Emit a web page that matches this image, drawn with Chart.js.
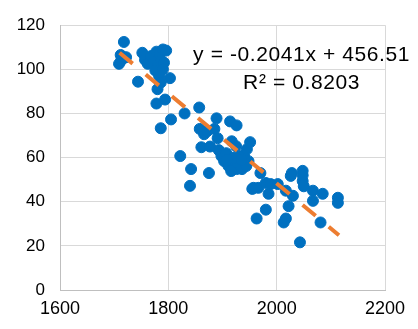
<!DOCTYPE html>
<html>
<head>
<meta charset="utf-8">
<script src="https://cdn.jsdelivr.net/npm/chart.js@4/dist/chart.umd.min.js"></script>
<style>
  body { margin: 0; background: #fff; }
</style>
</head>
<body>
<canvas id="scatterChart" width="418" height="329"></canvas>
<script>
// observations
const xValues = [
  1718, 1712, 1722, 1709, 1713, 1744, 1752, 1757, 1762, 1768,
  1774, 1778, 1784, 1790, 1796, 1780, 1787, 1792, 1776, 1783,
  1790, 1786, 1780, 1778, 1794, 1803, 1786, 1805, 1830, 1857,
  1822, 1842, 1840, 1875, 1858, 1866, 1861, 1872, 1877, 1885,
  1889, 1891, 1893, 1898, 1903, 1907, 1911, 1914, 1926, 1917,
  1925, 1917, 1929, 1933, 1940, 1945, 1951, 1948, 1936, 1926,
  1944, 1916, 1921, 1908, 1935, 1970, 1957, 1966, 1980, 1989,
  1985, 2002, 2017, 2030, 2026, 2028, 2048, 2048, 2050, 2067,
  2067, 2085, 2113, 2113, 2081, 2043, 2013, 2022, 1980, 1963,
  2017, 1955, 2048
];
const yValues = [
  112.4, 106.5, 105.5, 102.5, 104, 94.4, 107.5, 104.3, 102.5, 106,
  104, 108, 107, 109, 108.5, 102, 104, 103, 99.5, 97,
  100, 94, 91, 84.5, 86.3, 96, 73.3, 77.3, 80, 82.7,
  60.7, 54.8, 47.2, 53, 73, 70.6, 64.7, 72, 65, 73,
  77.8, 68.8, 63.4, 60.7, 58.4, 62, 56.2, 76.4, 74.6, 67.4,
  65.2, 58.4, 57.1, 60.7, 60.7, 63.8, 67, 58.4, 54.8, 54.8,
  56.2, 53.9, 60, 59, 59, 53, 46.3, 46.3, 48.5, 48,
  43.6, 48, 45, 42.7, 51.7, 53, 54, 49.4, 47, 45,
  40.4, 43.6, 41.8, 39.5, 30.6, 21.6, 30.6, 38, 36.4, 32.4,
  32.4, 45.8, 52
];

// linear fit
const slope = -0.2041;
const intercept = 456.51;
const rSquared = 0.8203;
const fitFrom = 1710;
const fitTo = 2115;

const xTickRange = [1600, 2200, 200];
const yTickRange = [0, 120, 20];

const points = xValues.map((x, i) => ({ x: x, y: yValues[i] }));
const fitLine = [fitFrom, fitTo].map(x => ({ x: x, y: slope * x + intercept }));

const fitLabel = {
  id: 'fitLabel',
  afterDraw(chart) {
    const ctx = chart.ctx;
    const cx = chart.scales.x.getPixelForValue(2046);
    ctx.save();
    ctx.fillStyle = '#000';
    ctx.font = '21px "Liberation Sans", Arial, sans-serif';
    ctx.letterSpacing = '0.6px';
    ctx.textAlign = 'center';
    ctx.textBaseline = 'middle';
    ctx.fillText('y = ' + slope + 'x + ' + intercept, cx, chart.scales.y.getPixelForValue(106.5));
    ctx.fillText('R² = ' + rSquared, cx, chart.scales.y.getPixelForValue(93.5));
    ctx.restore();
  }
};

const tickFont = { family: '"Liberation Sans", Arial, sans-serif', size: 17 };

new Chart(document.getElementById('scatterChart'), {
  type: 'scatter',
  data: {
    datasets: [{
      type: 'line',
      data: fitLine,
      borderColor: '#ED7D31',
      borderWidth: 4,
      borderDash: [17, 17],
      borderCapStyle: 'butt',
      pointRadius: 0,
      fill: false,
      order: 0
    }, {
      data: points,
      backgroundColor: '#0070C0',
      borderColor: '#0070C0',
      pointRadius: 5.5,
      order: 1
    }]
  },
  options: {
    responsive: false,
    animation: false,
    layout: { padding: { top: 23, right: 33, left: 0, bottom: 0 } },
    plugins: {
      legend: { display: false },
      tooltip: { enabled: false }
    },
    scales: {
      x: {
        type: 'linear',
        min: xTickRange[0],
        max: xTickRange[1],
        ticks: {
          stepSize: xTickRange[2],
          color: '#000',
          font: { family: tickFont.family, size: 18 },
          padding: 8,
          callback: v => String(v)
        },
        grid: { color: '#d9d9d9', drawTicks: false },
        border: { color: '#bfbfbf', width: 1 },
        afterFit(scale) { scale.height = 39; }
      },
      y: {
        min: yTickRange[0],
        max: yTickRange[1],
        ticks: { stepSize: yTickRange[2], color: '#000', font: tickFont, padding: 15 },
        grid: { color: '#d9d9d9', drawTicks: false },
        border: { color: '#bfbfbf', width: 1 },
        afterFit(scale) { scale.width = 60; }
      }
    }
  },
  plugins: [fitLabel]
});
</script>
</body>
</html>
